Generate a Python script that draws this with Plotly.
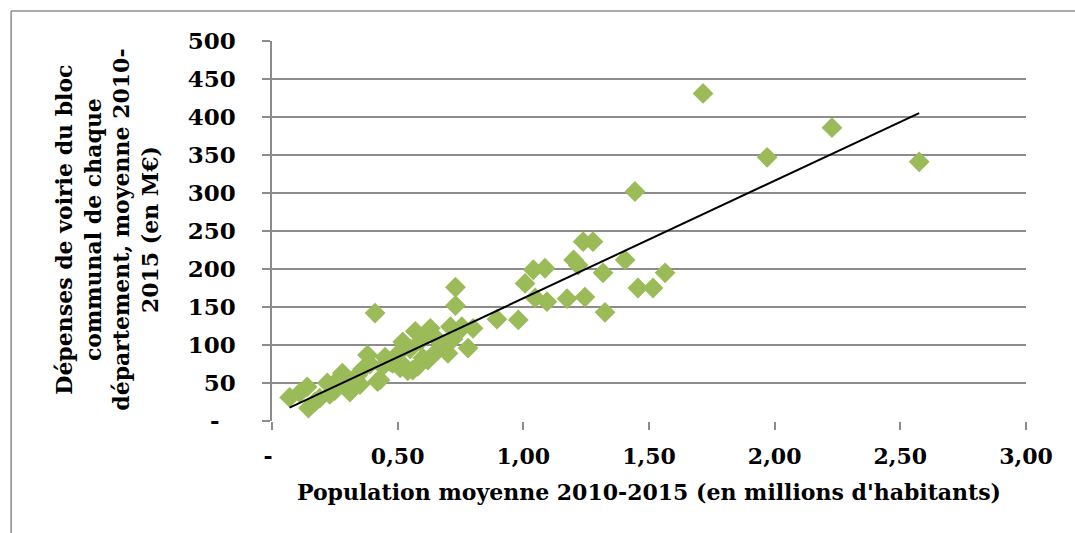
import numpy as np
import plotly.graph_objects as go

# Population moyenne 2010-2015 (millions d'habitants) par département
population = [
    0.07, 0.11, 0.14, 0.145, 0.17, 0.19, 0.22, 0.23, 0.25, 0.27,
    0.28, 0.30, 0.31, 0.33, 0.34, 0.35, 0.36, 0.38, 0.39, 0.41,
    0.42, 0.43, 0.44, 0.45, 0.47, 0.48, 0.50, 0.51, 0.52, 0.53,
    0.54, 0.55, 0.56, 0.57, 0.58, 0.59, 0.60, 0.62, 0.62, 0.63,
    0.65, 0.66, 0.68, 0.70, 0.71, 0.72, 0.73, 0.73, 0.74, 0.755,
    0.78, 0.80, 0.895, 0.98, 1.007, 1.04, 1.047, 1.086, 1.094, 1.174,
    1.20, 1.218, 1.238, 1.245, 1.277, 1.317, 1.325, 1.405, 1.444, 1.456,
    1.516, 1.564, 1.715, 1.970, 2.228, 2.575,
]

# Dépenses de voirie du bloc communal, moyenne 2010-2015 (M€)
depenses = [
    31, 37, 45, 17, 25, 30, 50, 35, 40, 57,
    63, 44, 38, 55, 60, 48, 68, 87, 75, 142,
    52, 54, 72, 84, 78, 76, 88, 70, 104, 71,
    66, 95, 67, 118, 72, 105, 83, 80, 115, 122,
    110, 93, 100, 89, 124, 108, 152, 176, 117, 124,
    96, 122, 134, 133, 181, 199, 162, 201, 157, 161,
    212, 205, 236, 163, 236, 195, 143, 212, 302, 175,
    175, 195, 431, 347, 386, 341,
]

x_ticks = [0, 0.5, 1.0, 1.5, 2.0, 2.5, 3.0]
x_tick_labels = ["-\u00a0", "0,50", "1,00", "1,50", "2,00", "2,50", "3,00"]
y_ticks = [0, 50, 100, 150, 200, 250, 300, 350, 400, 450, 500]
y_tick_labels = ["-\u00a0\u00a0", "50", "100", "150", "200", "250",
                 "300", "350", "400", "450", "500"]

# Linear trend fitted on the data, drawn between the extreme populations
xs = np.array(population)
ys = np.array(depenses)
slope, intercept = np.polyfit(xs, ys, 1)
trend_x = [xs.min(), xs.max()]
trend_y = [slope * v + intercept for v in trend_x]

GREEN = "#9BBB59"
GRID = "#8C8C8C"
FONT = "DejaVu Serif"

fig = go.Figure()
fig.add_trace(go.Scatter(
    x=population, y=depenses, mode="markers",
    marker=dict(symbol="diamond", size=16, color=GREEN, line=dict(width=0)),
    showlegend=False, hoverinfo="x+y",
))
fig.add_trace(go.Scatter(
    x=trend_x, y=trend_y, mode="lines",
    line=dict(color="black", width=2),
    showlegend=False, hoverinfo="skip",
))

fig.update_layout(
    width=1075, height=533,
    margin=dict(l=272, r=49, t=41, b=112),
    paper_bgcolor="white", plot_bgcolor="white",
    font=dict(family=FONT, size=22, color="black", weight="bold"),
    xaxis=dict(
        range=[0, 3], tickvals=x_ticks, ticktext=x_tick_labels,
        showgrid=False, zeroline=False,
        showline=False,
        ticks="outside", ticklen=8, tickwidth=1.5, tickcolor=GRID,
        ticklabelstandoff=8,
        tickfont=dict(family=FONT, size=22, weight="bold"),
        title=dict(text="Population moyenne 2010-2015 (en millions d'habitants)",
                   font=dict(family=FONT, size=22, weight="bold"), standoff=16),
    ),
    yaxis=dict(
        range=[0, 500], tickvals=y_ticks, ticktext=y_tick_labels,
        showgrid=True, gridcolor=GRID, gridwidth=1.5,
        zeroline=False, showline=True, linecolor=GRID, linewidth=1.5,
        ticks="outside", ticklen=8, tickwidth=1.5, tickcolor=GRID,
        ticklabelstandoff=22,
        tickfont=dict(family=FONT, size=23, weight="bold"),
    ),
    annotations=[dict(
        text=("Dépenses de voirie du bloc<br>communal de chaque<br>"
              "département, moyenne 2010-<br>2015 (en M€)"),
        textangle=-90, xref="paper", yref="paper",
        x=-0.219, y=0.503, xanchor="center", yanchor="middle",
        showarrow=False, align="center",
        font=dict(family=FONT, size=22, weight="bold"),
    )],
    shapes=[
        # outer chart frame (top and left edges visible)
        dict(type="line", xref="paper", yref="paper",
             x0=-0.346, x1=1.1, y0=1.079, y1=1.079,
             line=dict(color=GRID, width=1.5)),
        dict(type="line", xref="paper", yref="paper",
             x0=-0.346, x1=-0.346, y0=1.079, y1=-0.4,
             line=dict(color=GRID, width=1.5)),
    ],
)

fig.write_html("out.html")
